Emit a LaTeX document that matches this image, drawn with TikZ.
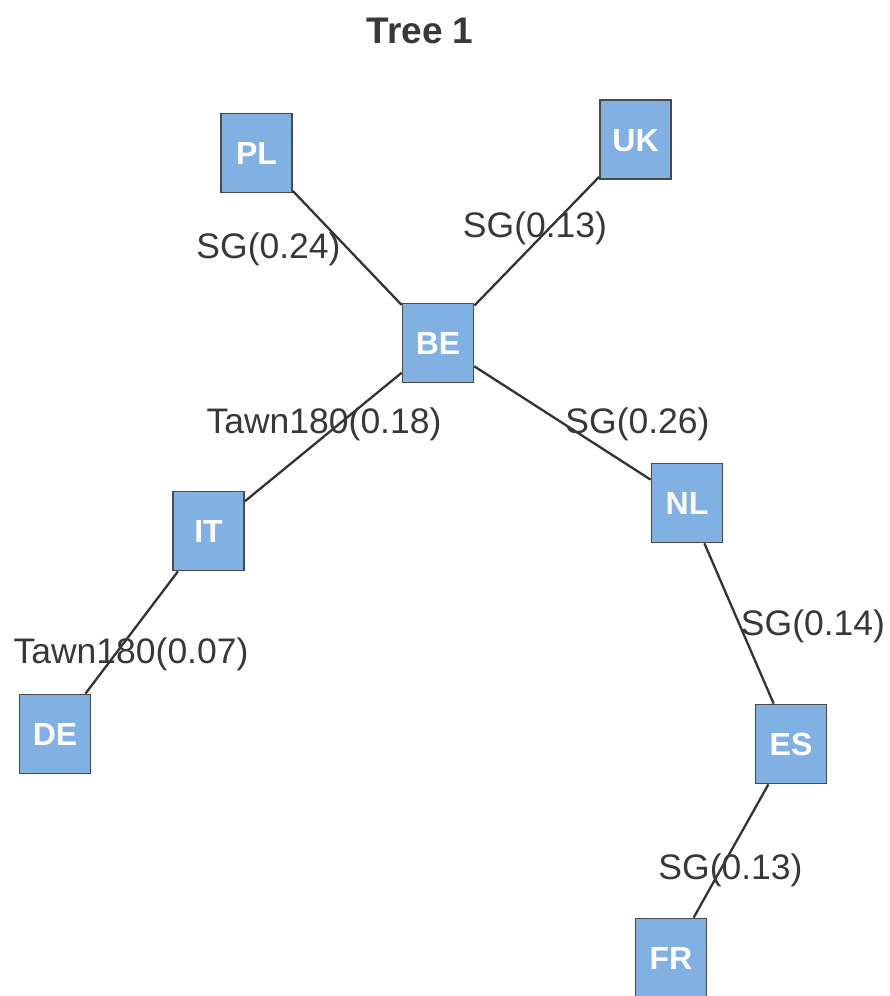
\documentclass[tikz,border=0pt]{standalone}
\usepackage{fontspec}
\setmainfont{Liberation Sans}
\definecolor{boxfill}{HTML}{80B1E2}
\definecolor{boxline}{HTML}{4A4A4A}
\definecolor{txt}{HTML}{383838}
\definecolor{edgeline}{HTML}{333333}
\tikzset{
  country/.style={draw=boxline, line width=1.8pt, fill=boxfill, minimum width=71pt, minimum height=79pt,
    inner sep=0pt, text=white, font=\bfseries\fontsize{32}{38}\selectfont, text height=23pt, text depth=0pt},
  edgelab/.style={anchor=base, inner sep=0pt, text=txt, font=\fontsize{35.5}{42}\selectfont},
  link/.style={draw=edgeline, line width=2.3pt},
}
\begin{document}
\begin{tikzpicture}[x=1pt,y=-1pt]
\useasboundingbox (0,0) rectangle (889,996);
\node[anchor=base, inner sep=0pt, text=txt, font=\bfseries\fontsize{37}{44}\selectfont] (title) at (420,43) {Tree 1};
% nodes
\node[country] (PL) at (256.5,153) {PL};
\node[country] (UK) at (635.5,139.5) {UK};
\node[country] (BE) at (438,343) {BE};
\node[country] (IT) at (208.5,531) {IT};
\node[country] (NL) at (687,503) {NL};
\node[country] (DE) at (55,734) {DE};
\node[country] (ES) at (791,744) {ES};
\node[country] (FR) at (671,958) {FR};
% edges
\draw[link] (PL) -- (BE);
\draw[link] (BE) -- (UK);
\draw[link] (BE) -- (IT);
\draw[link] (BE) -- (NL);
\draw[link] (IT) -- (DE);
\draw[link] (NL) -- (ES);
\draw[link] (ES) -- (FR);
% edge labels
\node[edgelab] (lPLBE) at (268.5,258) {SG(0.24)};
\node[edgelab] (lBEUK) at (535,237) {SG(0.13)};
\node[edgelab] (lBEIT) at (324,433) {Tawn180(0.18)};
\node[edgelab] (lBENL) at (637.5,433) {SG(0.26)};
\node[edgelab] (lITDE) at (131,663) {Tawn180(0.07)};
\node[edgelab] (lNLES) at (813,635) {SG(0.14)};
\node[edgelab] (lESFR) at (730.5,879) {SG(0.13)};
\end{tikzpicture}
\end{document}
